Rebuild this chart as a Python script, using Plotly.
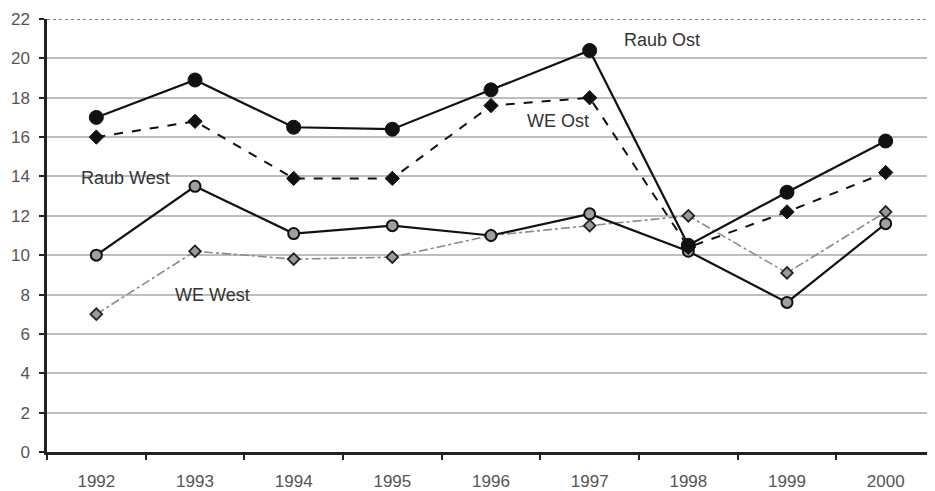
import plotly.graph_objects as go

years = ["1992", "1993", "1994", "1995", "1996", "1997", "1998", "1999", "2000"]
raub_ost = [17.0, 18.9, 16.5, 16.4, 18.4, 20.4, 10.5, 13.2, 15.8]
we_ost = [16.0, 16.8, 13.9, 13.9, 17.6, 18.0, 10.4, 12.2, 14.2]
raub_west = [10.0, 13.5, 11.1, 11.5, 11.0, 12.1, 10.2, 7.6, 11.6]
we_west = [7.0, 10.2, 9.8, 9.9, 11.0, 11.5, 12.0, 9.1, 12.2]
y_ticks = [0, 2, 4, 6, 8, 10, 12, 14, 16, 18, 20, 22]

fig = go.Figure()

fig.add_trace(go.Scatter(
    x=years, y=we_west, mode="lines+markers", name="WE West",
    line=dict(color="#8a8a8a", width=1.6, dash="dashdot"),
    marker=dict(symbol="diamond", size=9, color="#9a9a9a",
                line=dict(color="#222", width=1.8))))
fig.add_trace(go.Scatter(
    x=years, y=raub_west, mode="lines+markers", name="Raub West",
    line=dict(color="#111", width=2.2),
    marker=dict(symbol="circle", size=11, color="#a0a0a0",
                line=dict(color="#111", width=2))))
fig.add_trace(go.Scatter(
    x=years, y=we_ost, mode="lines+markers", name="WE Ost",
    line=dict(color="#111", width=2, dash="dash"),
    marker=dict(symbol="diamond", size=11, color="#111",
                line=dict(color="#111", width=1))))
fig.add_trace(go.Scatter(
    x=years, y=raub_ost, mode="lines+markers", name="Raub Ost",
    line=dict(color="#111", width=2.2),
    marker=dict(symbol="circle", size=14, color="#111",
                line=dict(color="#111", width=1))))

labels = [("Raub Ost", "1997", 20.95, 0.73),
          ("WE Ost", "1996", 16.8, 0.68),
          ("Raub West", "1992", 13.9, 0.3),
          ("WE West", "1993", 8.0, 0.18)]
for text, xc, yv, shift in labels:
    fig.add_annotation(x=years.index(xc) + shift, y=yv, text=text, showarrow=False,
                       font=dict(size=18, color="#333",
                                 family="Liberation Sans, Arial"))

fig.add_shape(type="line", xref="paper", yref="y", x0=0, x1=1, y0=22, y1=22,
              line=dict(color="#555", width=1.5, dash="dot"))

fig.update_layout(
    width=927, height=483,
    margin=dict(l=39, r=0, t=11, b=39),
    paper_bgcolor="white", plot_bgcolor="white",
    showlegend=False,
    font=dict(family="Liberation Sans, Arial", color="#444", size=17),
)
fig.update_xaxes(
    type="category", range=[-0.5, 8.5], tickson="boundaries",
    ticks="outside", ticklen=5, tickwidth=2, tickcolor="#222",
    ticklabelstandoff=12,
    showline=True, linecolor="#222", linewidth=2.5,
    showgrid=False, tickfont=dict(size=17, color="#555"))
fig.update_yaxes(
    range=[0, 22], tickvals=y_ticks, ticks="outside", ticklen=5,
    tickwidth=2, tickcolor="#222", ticklabelstandoff=6,
    showline=True, linecolor="#222", linewidth=2.5,
    showgrid=True, gridcolor="#bdbdbd", gridwidth=1.5,
    zeroline=False, tickfont=dict(size=17, color="#555"))

fig.write_html("out.html")
